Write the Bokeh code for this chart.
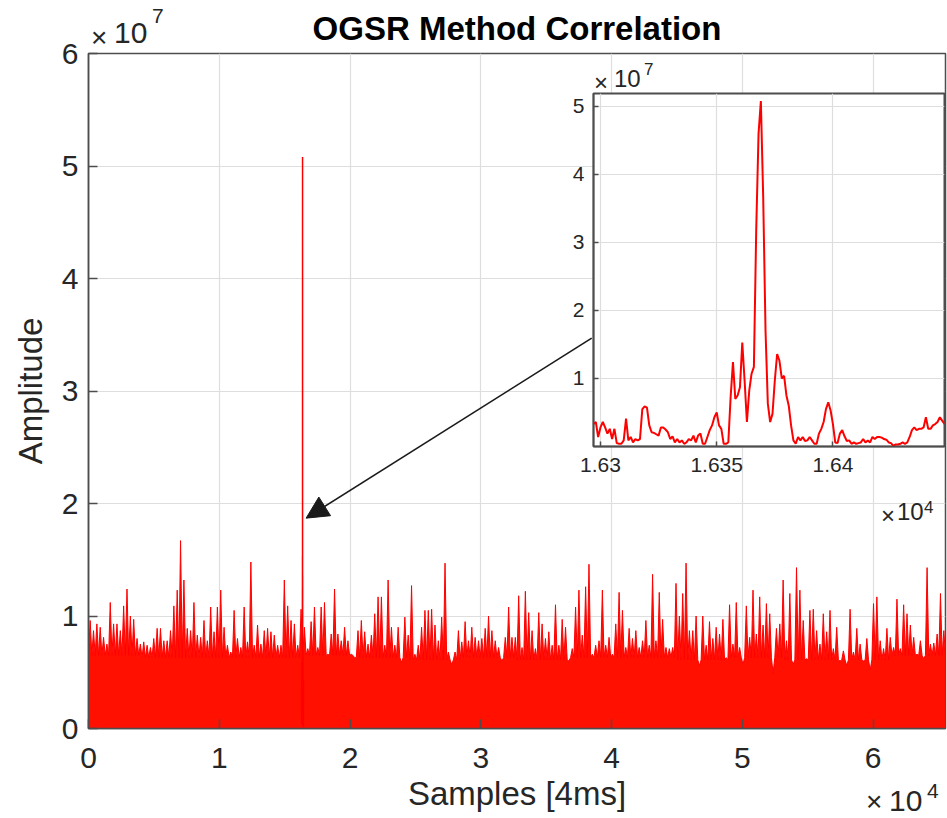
from bokeh.plotting import figure
from bokeh.models import Range1d, FixedTicker, Arrow, NormalHead, GridBox, Div
from bokeh.embed import file_html
from bokeh.resources import INLINE

TITLE = "OGSR Method Correlation"
X_LABEL = "Samples [4ms]"
Y_LABEL = "Amplitude"

N_SAMPLES = 65536
BIN = 256  # samples per bin of the overview trace

# per-bin peak amplitude of the overview trace, in units of 1e6
peak_e6 = [
    9.6, 8.7, 9.3, 9.0, 8.1, 7.5, 11.2, 9.3, 9.3, 8.7, 10.9, 12.4, 10.0, 9.7, 8.0, 7.5,
    7.7, 7.4, 7.2, 8.0, 8.9, 8.9, 7.8, 7.8, 8.7, 10.9, 12.3, 16.7, 13.2, 8.9, 8.7, 11.2,
    8.3, 8.1, 9.6, 7.8, 10.8, 8.6, 10.8, 12.3, 9.0, 7.4, 6.8, 10.5, 8.0, 7.2, 10.8, 7.7,
    14.8, 7.4, 9.2, 7.5, 8.7, 8.9, 8.6, 8.3, 7.4, 7.4, 13.2, 10.9, 9.6, 9.3, 7.4, 10.6,
    9.0, 7.1, 9.5, 10.8, 7.2, 10.8, 11.2, 6.6, 8.4, 12.4, 8.4, 7.8, 9.0, 7.8, 6.6, 6.3,
    8.7, 9.6, 8.6, 7.5, 8.3, 10.2, 11.7, 11.7, 7.4, 13.2, 9.0, 7.4, 9.0, 5.9, 9.9, 8.3,
    12.7, 6.6, 7.4, 9.0, 10.5, 10.5, 10.6, 9.2, 7.8, 9.9, 14.7, 6.8, 5.7, 6.8, 8.7, 7.7,
    9.5, 7.8, 9.0, 8.1, 7.8, 8.0, 8.9, 10.0, 8.7, 7.8, 7.2, 6.0, 8.1, 10.8, 8.1, 8.1,
    11.8, 7.2, 12.2, 10.3, 8.7, 7.1, 10.3, 9.3, 8.0, 8.6, 7.4, 11.0, 7.4, 9.7, 9.0, 6.0,
    7.1, 10.8, 12.3, 8.3, 12.6, 14.6, 6.6, 7.4, 7.8, 12.3, 7.4, 8.1, 6.6, 9.3, 12.1, 10.5,
    7.2, 8.9, 8.0, 8.7, 7.2, 7.8, 9.6, 7.4, 13.7, 7.8, 12.1, 9.7, 7.2, 7.1, 7.2, 12.9,
    10.0, 12.0, 14.7, 8.7, 8.7, 10.0, 5.6, 10.0, 7.4, 9.5, 8.0, 9.0, 8.4, 9.7, 6.3, 11.0,
    7.5, 11.2, 7.2, 5.7, 10.9, 8.1, 12.3, 8.4, 11.7, 9.2, 11.1, 10.2, 4.9, 8.9, 9.3, 13.2,
    7.8, 12.0, 5.7, 14.3, 12.3, 9.6, 6.2, 10.5, 10.6, 8.7, 7.5, 10.2, 8.6, 10.5, 7.1, 9.0,
    6.0, 6.9, 5.6, 10.6, 6.8, 8.9, 7.5, 6.0, 8.0, 5.2, 11.1, 11.7, 7.8, 7.1, 8.9, 8.1,
    7.2, 11.5, 7.1, 11.0, 10.2, 9.2, 8.1, 6.6, 7.8, 6.2, 14.3, 7.5, 7.6, 8.4, 12.0, 8.7,
]
# level of the dense part between peaks, one value per 16 bins, units of 1e6
floor_e6 = [6.5, 6.3, 6.3, 6.3, 6.5, 6.3, 6.1, 6.3, 6.1, 6.3, 6.3, 6.1, 6.3, 6.1, 6.1, 6.5]

# zoomed trace around the correlation peak, samples 16297..16448, units of 1e7
INSET_FIRST = 16297
inset_e7 = [
    0.33, 0.36, 0.14, 0.28, 0.36, 0.28, 0.19, 0.26, 0.11, 0.26, 0.05, 0.04, 0.04, 0.09, 0.41, 0.09,
    0.14, 0.06, 0.11, 0.09, 0.11, 0.55, 0.59, 0.57, 0.31, 0.21, 0.20, 0.18, 0.16, 0.28, 0.28, 0.25,
    0.21, 0.11, 0.15, 0.06, 0.11, 0.06, 0.09, 0.04, 0.06, 0.11, 0.09, 0.16, 0.06, 0.16, 0.19, 0.04,
    0.04, 0.14, 0.24, 0.31, 0.43, 0.50, 0.31, 0.26, 0.04, 0.04, 0.06, 0.73, 1.24, 0.70, 0.75, 0.87,
    1.53, 0.97, 0.36, 0.82, 1.07, 1.17, 3.18, 4.60, 5.08, 3.67, 1.71, 0.63, 0.36, 0.48, 0.97, 1.36,
    1.26, 1.00, 1.04, 0.75, 0.60, 0.31, 0.09, 0.04, 0.14, 0.09, 0.14, 0.08, 0.09, 0.14, 0.09, 0.04,
    0.04, 0.19, 0.26, 0.36, 0.55, 0.65, 0.53, 0.33, 0.06, 0.05, 0.19, 0.24, 0.15, 0.08, 0.09, 0.04,
    0.06, 0.04, 0.05, 0.06, 0.11, 0.06, 0.09, 0.06, 0.14, 0.11, 0.14, 0.14, 0.13, 0.11, 0.10, 0.06,
    0.05, 0.01, 0.03, 0.03, 0.04, 0.06, 0.04, 0.06, 0.14, 0.24, 0.28, 0.24, 0.26, 0.26, 0.28, 0.43,
    0.26, 0.26, 0.31, 0.33, 0.36, 0.43, 0.38, 0.33,
]

main_xticks = [0, 10000, 20000, 30000, 40000, 50000, 60000]
main_xtick_labels = ["0", "1", "2", "3", "4", "5", "6"]
main_yticks = [0, 1e7, 2e7, 3e7, 4e7, 5e7, 6e7]
main_ytick_labels = ["0", "1", "2", "3", "4", "5", "6"]
inset_xticks = [16300, 16350, 16400]
inset_xtick_labels = ["1.63", "1.635", "1.64"]
inset_yticks = [1e7, 2e7, 3e7, 4e7, 5e7]
inset_ytick_labels = ["1", "2", "3", "4", "5"]

FONT = "Liberation Sans"
TXT = "#262626"
AX = "#4d4d4d"
GRID = "#dedede"
RED = "#ff0000"
RED_FILL = "#ff1000"

W, H = 947, 818
B_LEFT, B_RIGHT, B_TOP, B_BOTTOM = 88, 2, 53, 90

# ---- overview trace (peaks at bin centres, dense level at bin edges)
zx, zy = [], []
for k, pk in enumerate(peak_e6):
    zx.append(k * BIN)
    zy.append(floor_e6[k // 16] * 1e6)
    zx.append(k * BIN + BIN // 2)
    zy.append(pk * 1e6)
zx.append(N_SAMPLES)
zy.append(floor_e6[-1] * 1e6)

inset_x = [INSET_FIRST + i for i in range(len(inset_e7))]
inset_y = [v * 1e7 for v in inset_e7]


def style_axis(ax, ticks, labels, tick_len, font_px, standoff):
    ax.ticker = FixedTicker(ticks=ticks)
    ax.major_label_overrides = {t: l for t, l in zip(ticks, labels)}
    ax.major_tick_in = tick_len
    ax.major_tick_out = 0
    ax.minor_tick_line_color = None
    ax.axis_line_color = AX
    ax.axis_line_width = 1.5
    ax.major_tick_line_color = AX
    ax.major_tick_line_width = 1.5
    ax.major_label_text_font = FONT
    ax.major_label_text_color = TXT
    ax.major_label_standoff = standoff
    ax.major_label_text_font_size = font_px


# ---- main figure
p = figure(width=W, height=H, x_range=Range1d(0, N_SAMPLES), y_range=Range1d(0, 6e7),
           output_backend="svg", toolbar_location=None,
           min_border_left=B_LEFT, min_border_right=B_RIGHT,
           min_border_top=B_TOP, min_border_bottom=B_BOTTOM,
           background_fill_color="white", border_fill_color="white")
p.title.text = TITLE
p.title.align = "center"
p.title.text_font = FONT
p.title.text_font_size = "33px"
p.title.text_font_style = "bold"
p.title.text_color = "black"
p.title.standoff = 13

style_axis(p.xaxis[0], main_xticks, main_xtick_labels, 9, "30px", 19)
style_axis(p.yaxis[0], main_yticks, main_ytick_labels, 9, "30px", 10)
for ax, lab, st in ((p.xaxis[0], X_LABEL, 4), (p.yaxis[0], Y_LABEL, 10)):
    ax.axis_label = lab
    ax.axis_label_text_font = FONT
    ax.axis_label_text_font_size = "33px"
    ax.axis_label_text_font_style = "normal"
    ax.axis_label_text_color = TXT
    ax.axis_label_standoff = st

p.grid.grid_line_color = GRID
p.grid.grid_line_width = 1.2
p.outline_line_color = AX
p.outline_line_width = 1.5

p.varea(x=zx, y1=0, y2=zy, fill_color=RED_FILL)
p.line(zx, zy, line_color=RED, line_width=1)
p.line(inset_x, inset_y, line_color=RED, line_width=1.5)

p.add_layout(Arrow(end=NormalHead(size=22, fill_color="#1a1a1a", line_color="#1a1a1a"),
                   x_start=38480, y_start=3.47e7, x_end=16640, y_end=1.87e7,
                   line_color="#1a1a1a", line_width=1.6))

# ---- inset figure (same border sizes as the main plot, so grid frame alignment is neutral)
INSET_FRAME_W, INSET_FRAME_H = 351, 353
q = figure(width=B_LEFT + INSET_FRAME_W + B_RIGHT, height=B_TOP + INSET_FRAME_H + B_BOTTOM,
           x_range=Range1d(INSET_FIRST, 16448), y_range=Range1d(0, 5.19e7),
           output_backend="svg", toolbar_location=None,
           min_border_left=B_LEFT, min_border_right=B_RIGHT,
           min_border_top=B_TOP, min_border_bottom=B_BOTTOM,
           background_fill_color="white", border_fill_alpha=0)
style_axis(q.xaxis[0], inset_xticks, inset_xtick_labels, 5, "21px", 11)
style_axis(q.yaxis[0], inset_yticks, inset_ytick_labels, 5, "21px", 9)
q.grid.grid_line_color = GRID
q.grid.grid_line_width = 1.2
q.outline_line_color = AX
q.outline_line_width = 2
q.line(inset_x, inset_y, line_color=RED, line_width=2)
q.margin = (93 - B_TOP, 0, 0, 593 - B_LEFT)


# ---- axis exponent labels (x10^n), as text placed over the page
def span(x, y, text, size):
    return ('<span style="position:absolute;left:%dpx;top:%dpx;font-size:%dpx;'
            'line-height:1;white-space:nowrap">%s</span>' % (x, y, size, text))


exp_html = "".join([
    # main y exponent (top left)
    span(91, 24, "\u00d7", 28), span(114, 18, "10", 30), span(152, 5, "7", 21),
    # main x exponent (bottom right)
    span(866, 788, "\u00d7", 28), span(889, 786, "10", 30), span(927, 780, "4", 21),
    # inset y exponent
    span(594, 71, "\u00d7", 24), span(614, 67, "10", 24), span(644, 61, "7", 17),
    # inset x exponent
    span(881, 504, "\u00d7", 24), span(897, 500, "10", 24), span(924, 499, "4", 17),
])
d = Div(text='<div style="position:relative;width:%dpx;height:%dpx;font-family:\'%s\';color:%s">%s</div>'
        % (W, H, FONT, TXT, exp_html), width=W, height=H)
d.margin = (0, 0, 0, 0)
p.margin = (0, 0, 0, 0)

layout = GridBox(children=[(p, 0, 0), (q, 0, 0), (d, 0, 0)])

with open("out.html", "w") as f:
    f.write(file_html(layout, INLINE))
